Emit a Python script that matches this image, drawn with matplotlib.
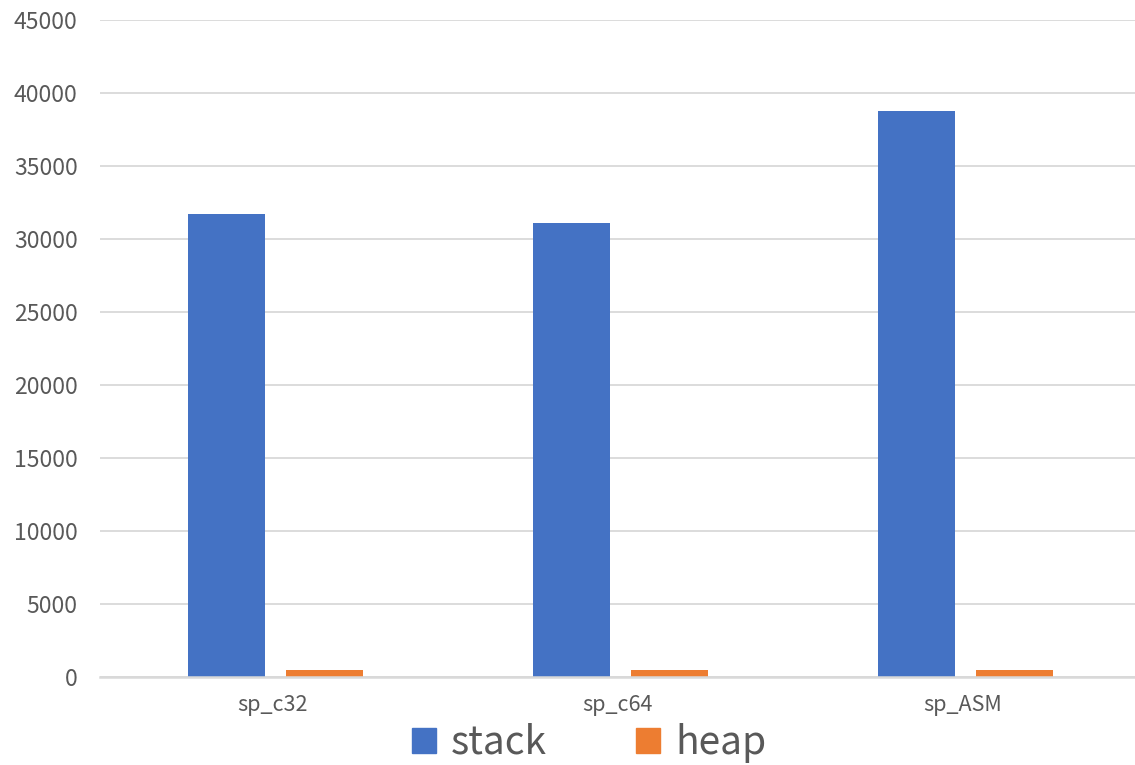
import matplotlib
matplotlib.use("Agg")
import matplotlib.pyplot as plt
from matplotlib.patches import Patch
import numpy as np

plt.rcParams['font.family'] = ['Noto Sans CJK JP', 'DejaVu Sans']

categories = ["sp_c32", "sp_c64", "sp_ASM"]
stack = [31700, 31100, 38800]
heap = [500, 500, 500]

STACK_COLOR = "#4472C4"
HEAP_COLOR = "#ED7D31"
TEXT_COLOR = "#595959"
GRID_COLOR = "#D9D9D9"

fig = plt.figure(figsize=(11.35, 7.65), dpi=100)
ax = fig.add_axes([0.088, 0.1144, 0.912, 0.8595])

x = np.arange(len(categories))
width = 0.223
ax.bar(x - 0.133, stack, width, color=STACK_COLOR, zorder=3)
ax.bar(x + 0.151, heap, width, color=HEAP_COLOR, zorder=3)

ax.set_xlim(-0.5, len(categories) - 0.5)
ax.set_ylim(0, 45000)
ax.set_yticks(np.arange(0, 45001, 5000))
ax.set_xticks(x)
ax.set_xticklabels(categories)

ax.grid(axis='y', color=GRID_COLOR, linewidth=1.3, zorder=0)
for side in ['top', 'right', 'left']:
    ax.spines[side].set_visible(False)
ax.spines['bottom'].set_color(GRID_COLOR)
ax.spines['bottom'].set_linewidth(1.8)
ax.spines['bottom'].set_zorder(4)

ax.tick_params(axis='y', length=0, pad=16, labelsize=16.5, labelcolor=TEXT_COLOR)
ax.tick_params(axis='x', length=0, pad=12, labelsize=15.5, labelcolor=TEXT_COLOR)

handles = [Patch(color=STACK_COLOR, label="stack"),
           Patch(color=HEAP_COLOR, label="heap")]
fig.legend(handles=handles, loc='center', bbox_to_anchor=(0.519, 0.029),
           ncol=2, frameon=False, fontsize=28, labelcolor=TEXT_COLOR,
           handlelength=0.62, handleheight=0.62, handletextpad=0.38,
           columnspacing=2.3)

fig.savefig("out.png", dpi=100)
